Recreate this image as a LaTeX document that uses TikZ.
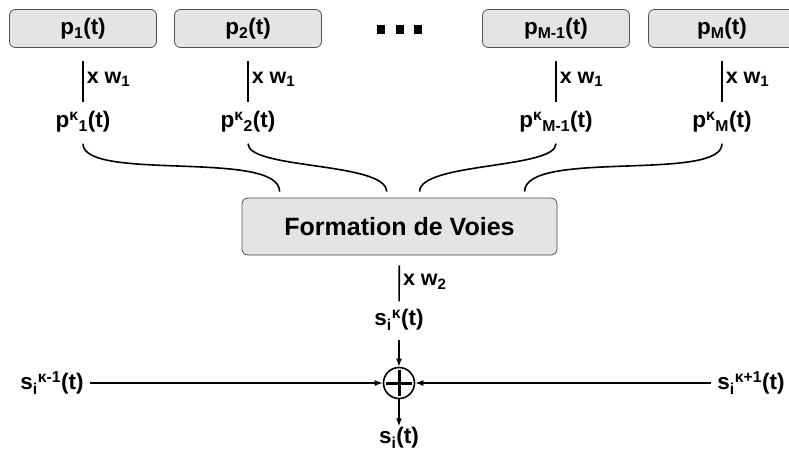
\documentclass[tikz,border=0pt]{standalone}
\usepackage{fontspec}
\setmainfont{Liberation Sans}
\usetikzlibrary{arrows.meta,positioning,calc}
\definecolor{fondboite}{HTML}{E4E4E4}
\definecolor{bordboite}{HTML}{505050}
\tikzset{
  boite/.style={rectangle, rounded corners=6pt, draw=bordboite, line width=0.8pt, fill=fondboite,
                font=\fontsize{22.5}{25}\selectfont\bfseries, minimum width=147pt, minimum height=38pt},
  etiq/.style={font=\fontsize{22.5}{25}\selectfont\bfseries, inner sep=1pt},
  poids/.style={font=\fontsize{21.5}{25}\selectfont\bfseries, right, inner sep=3pt},
  trait/.style={line width=1.6pt},
  courbe/.style={line width=1.6pt, out=-90, in=90, looseness=0.6},
  fleche/.style={-{Latex[length=8pt,width=6pt]}, line width=1.4pt},
}

\begin{document}
\begin{tikzpicture}[x=1pt,y=-1pt]
  \useasboundingbox (0,0) rectangle (789,452);
  \clip (0,0) rectangle (789,452);
  % capteurs
  \node[boite] (p1) at (83,28.5) {p\textsubscript{1}(t)};
  \node[boite] (p2) at (248,28.5) {p\textsubscript{2}(t)};
  \node[boite] (pm1) at (556,28.5) {p\textsubscript{M-1}(t)};
  \node[boite] (pm) at (722,28.5) {p\textsubscript{M}(t)};
  \foreach \x in {381,400,418}
    \fill (\x-4,25) rectangle (\x+4,34);
  % signaux ponderes
  \node[etiq] (k1) at (83,122) {p\textsuperscript{κ}\textsubscript{1}(t)};
  \node[etiq] (k2) at (248,122) {p\textsuperscript{κ}\textsubscript{2}(t)};
  \node[etiq] (km1) at (556,122) {p\textsuperscript{κ}\textsubscript{M-1}(t)};
  \node[etiq] (km) at (722,122) {p\textsuperscript{κ}\textsubscript{M}(t)};
  \foreach \a/\b in {p1/k1,p2/k2,pm1/km1,pm/km}
    \draw[trait, shorten <=13pt, shorten >=8pt] (\a) -- (\b)
      node[poids, midway] {x w\textsubscript{1}};
  % formation de voies
  \node[boite, minimum width=315pt, minimum height=57pt, font=\fontsize{25}{28}\selectfont\bfseries]
    (fv) at (399.5,226.5) {Formation de Voies};
  \draw[courbe, shorten <=10pt, shorten >=6pt] (k1) to ([xshift=38pt]fv.north west);
  \draw[courbe, shorten <=10pt, shorten >=6pt] (k2) to ([xshift=145pt]fv.north west);
  \draw[courbe, shorten <=10pt, shorten >=6pt] (km1) to ([xshift=178pt]fv.north west);
  \draw[courbe, shorten <=10pt, shorten >=6pt] (km) to ([xshift=283pt]fv.north west);
  % sommation
  \node[etiq] (sk) at (399,320) {s\textsubscript{i}\textsuperscript{κ}(t)};
  \draw[trait, shorten <=10pt, shorten >=7pt] (fv) -- (sk)
    node[poids, midway] {x w\textsubscript{2}};
  \node[circle, draw, line width=1.6pt, minimum size=31pt, inner sep=0pt] (sum) at (399,383) {};
  \draw[line width=3pt] ([yshift=-3pt]sum.north) -- ([yshift=3pt]sum.south);
  \draw[line width=3pt] ([xshift=3pt]sum.west) -- ([xshift=-3pt]sum.east);
  \node[etiq] (sm1) at (52,383) {s\textsubscript{i}\textsuperscript{κ-1}(t)};
  \node[etiq] (sp1) at (751,383) {s\textsubscript{i}\textsuperscript{κ+1}(t)};
  \node[etiq] (si) at (399,438) {s\textsubscript{i}(t)};
  \draw[fleche, shorten <=8pt] (sk) -- (sum);
  \draw[fleche, shorten <=5pt] (sm1) -- (sum);
  \draw[fleche, shorten <=5pt] (sp1) -- (sum);
  \draw[fleche] (sum) -- (si);
\end{tikzpicture}
\end{document}
